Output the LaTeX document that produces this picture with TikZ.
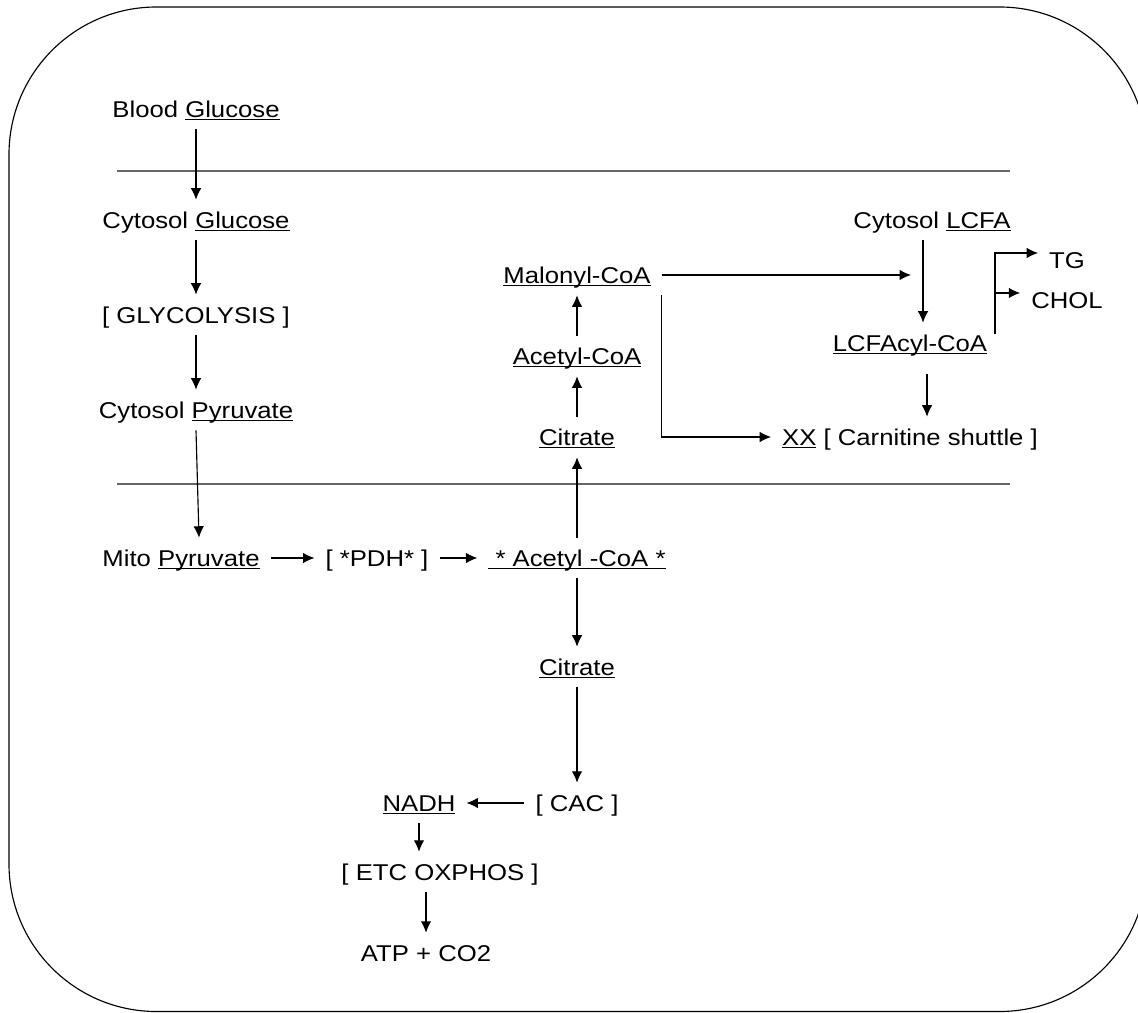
\documentclass[tikz,border=0pt]{standalone}
\usepackage{fontspec}
\setmainfont{Liberation Sans}[FakeStretch=1.125]
\usetikzlibrary{positioning, arrows.meta, calc}

\newcommand{\undl}[1]{\setbox0=\hbox{#1}\rlap{\rule[-1.4pt]{\wd0}{0.6pt}}\box0\relax}

\tikzset{
  lbl/.style={inner xsep=6pt, inner ysep=6.6pt, text height=9.3pt, text depth=0pt,
    font=\fontsize{13}{15}\selectfont},
  divider/.style={-, line width=0.9pt, black!60},
}

\begin{document}
\begin{tikzpicture}[x=0.02cm, y=-0.02cm, line width=0.65pt, -{Latex[length=6.5pt,width=6pt]}]
  \useasboundingbox (0,0) rectangle (1138,1013);
  \clip (0,0) rectangle (1138,1013);
  \draw[-, rounded corners=2.95cm] (9,7) rectangle (1147,1011.5);

  \draw[divider] (117,171) -- (1010,171);
  \draw[divider] (117,484) -- (1010,484);

  % left column
  \node[lbl] (bg) at (196,109) {Blood \undl{Glucose}};
  \node[lbl] (cg) at (196,220) {Cytosol \undl{Glucose}};
  \node[lbl] (gly) at (196,315) {[ GLYCOLYSIS ]};
  \node[lbl] (cp) at (196,410) {Cytosol \undl{Pyruvate}};

  % mitochondria
  \node[lbl] (mp) at (181,558) {Mito \undl{Pyruvate}};
  \node[lbl] (pdh) at (377,558) {[ *PDH* ]};
  \node[lbl] (acm) at (577,558) {\undl{\ * Acetyl -CoA *}};
  \node[lbl] (cit) at (577,667) {\undl{Citrate}};
  \node[lbl] (cac) at (577,803) {[ CAC ]};
  \node[lbl] (nadh) at (419,803) {\undl{NADH}};
  \node[lbl] (etc) at (440,872) {[ ETC OXPHOS ]};
  \node[lbl] (atp) at (426,953) {ATP + CO2};

  % cytosol, middle and right
  \node[lbl] (cit2) at (577,437) {\undl{Citrate}};
  \node[lbl] (acc) at (577,356) {\undl{Acetyl-CoA}};
  \node[lbl] (mal) at (577,275) {\undl{Malonyl-CoA}};
  \node[lbl] (lcfa) at (932,220) {Cytosol \undl{LCFA}};
  \node[lbl] (lacyl) at (910,343) {\undl{LCFAcyl-CoA}};
  \node[lbl] (xx) at (910,437) {\undl{XX} [ Carnitine shuttle ]};
  \node[lbl] (tg) at (1067,260) {TG};
  \node[lbl] (chol) at (1067,300) {CHOL};

  \coordinate (mhead) at (911,275);
  \coordinate (lx) at (923,0);
  \coordinate (lx2) at (927,0);
  \coordinate (br) at (995,334);

  \path (bg) edge (cg);
  \path (cg) edge (gly);
  \path (gly) edge (cp);
  \draw (cp.south) -- ($(mp.north)+(18,0)$);
  \path (mp) edge (pdh);
  \path (pdh) edge (acm);
  \path (acm) edge (cit);
  \path (cit) edge (cac);
  \path (cac) edge (nadh);
  \draw (nadh.south) -- (nadh.south |- etc.north);
  \draw (etc.south -| atp) -- (atp.north);

  \path (acm) edge (cit2);
  \path (cit2) edge (acc);
  \path (acc) edge (mal);
  \draw (mal) -- (mhead);
  \draw (mal.south east) |- (xx.west);

  \draw (lcfa.south -| lx) -- (lacyl.north -| lx);
  \draw[shorten <=6pt] (lacyl.south -| lx2) -- (xx.north -| lx2);
  \draw (br) |- ([yshift=4pt]tg.west);
  \path ([yshift=4pt]chol.west) coordinate (cholin);
  \draw (cholin -| br) -- (cholin);
\end{tikzpicture}
\end{document}
